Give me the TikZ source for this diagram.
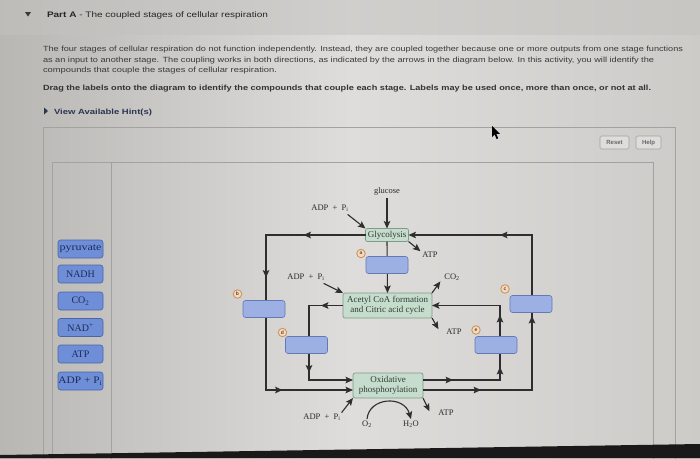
\documentclass[tikz,border=0pt]{standalone}
\usepackage{fontspec}
\setmainfont{Liberation Serif}
\newfontfamily\ui{Liberation Sans}
\usetikzlibrary{arrows.meta,decorations.markings,calc}
\definecolor{bgL}{HTML}{B9B7B4}
\definecolor{bgM}{HTML}{DEDDDB}
\definecolor{bgR}{HTML}{CDCBC8}
\definecolor{hdrC}{HTML}{C4C2BF}
\definecolor{panelC}{HTML}{A3A2A0}
\definecolor{linec}{HTML}{2E2E2E}
\definecolor{stgF}{HTML}{C6DCCD}
\definecolor{stgB}{HTML}{7E9A8A}
\definecolor{stgT}{HTML}{2F3D35}
\definecolor{phF}{HTML}{9CB0E3}
\definecolor{phB}{HTML}{6378B6}
\definecolor{mkF}{HTML}{F1DCC3}
\definecolor{mkB}{HTML}{CF955C}
\definecolor{mkT}{HTML}{6B4324}
\definecolor{labF}{HTML}{6F8ED8}
\definecolor{labB}{HTML}{4B64A6}
\definecolor{labT}{HTML}{1F2B5A}
\definecolor{txtC}{HTML}{3A3A3A}
\definecolor{hintC}{HTML}{2C3550}
\definecolor{btnT}{HTML}{6A6866}
\definecolor{dtxt}{HTML}{2A2A2A}
\newcommand\wfit[2]{\resizebox{#1}{\height}{#2}}
\begin{document}
\begin{tikzpicture}[x=1pt,y=-1pt,
  every node/.style={inner sep=0pt,outer sep=0pt},
  uitext/.style={anchor=base west,text=txtC,font=\ui\fontsize{7.5}{8}\selectfont},
  stage/.style={draw=stgB,fill=stgF,line width=0.7pt,rounded corners=2pt,align=center,
    font=\fontsize{9}{10.5}\selectfont,text=stgT},
  ph/.style={draw=phB,fill=phF,line width=0.6pt,rounded corners=2.5pt,minimum width=42pt,minimum height=17pt},
  mk/.style={circle,draw=mkB,fill=mkF,line width=0.9pt,minimum size=8.5pt,
    font=\ui\bfseries\fontsize{5}{5}\selectfont,text=mkT},
  lab/.style={draw=labB,fill=labF,line width=0.6pt,rounded corners=2.5pt,minimum width=45pt,
    minimum height=18pt,font=\fontsize{10}{11}\selectfont,text=labT},
  dl/.style={font=\fontsize{8.5}{9}\selectfont,text=dtxt},
  btn/.style={draw=panelC,fill=bgM,line width=0.6pt,rounded corners=1.5pt,minimum height=13pt,
    font=\ui\bfseries\fontsize{6}{6}\selectfont,text=btnT},
  conn/.style={draw=linec,line width=1.1pt},
  tip/.style={-{Stealth[length=7.5pt,width=6.5pt,inset=1.5pt]}},
  ma/.style={postaction={decorate,decoration={markings,
    mark=at position #1 with {\fill[linec] (0pt,0pt) -- (-7.5pt,3.4pt) -- (-6pt,0pt) -- (-7.5pt,-3.4pt) -- cycle;}}}}
]
\useasboundingbox (0,0) rectangle (700,458);
% screen background
\shade[left color=bgL,right color=bgR,middle color=bgM] (0,0) rectangle (700,458);
\fill[hdrC,opacity=0.5] (0,0) rectangle (700,35);
% header
\fill[txtC] (25,12) -- (31,12) -- (28,16.5) -- cycle;
\node[uitext,text=black!85] (title) at (47,17.5)
  {\wfit{221pt}{\fontsize{8}{9}\selectfont\textbf{Part A} - The coupled stages of cellular respiration}};
\node[uitext] (p1) at (43,51.5) {\wfit{640pt}{The four stages of cellular respiration do not function independently. Instead, they are coupled together because one or more outputs from one stage functions}};
\node[uitext] (p2) at (43,62) {\wfit{611pt}{as an input to another stage. The coupling works in both directions, as indicated by the arrows in the diagram below. In this activity, you will identify the}};
\node[uitext] (p3) at (43,72.5) {\wfit{234pt}{compounds that couple the stages of cellular respiration.}};
\node[uitext,text=black!80] (p4) at (43,90.5) {\wfit{608pt}{\bfseries Drag the labels onto the diagram to identify the compounds that couple each stage. Labels may be used once, more than once, or not at all.}};
\fill[hintC] (44,107.5) -- (48,111) -- (44,114.5) -- cycle;
\node[uitext,text=hintC] (hint) at (54,114) {\wfit{98pt}{\bfseries View Available Hint(s)}};
% panel
\draw[panelC,line width=0.7pt] (43,470) -- (43,127) -- (675,127) -- (675,470);
\draw[panelC,line width=0.7pt] (52,470) -- (52,162.5) -- (653,162.5) -- (653,470);
\draw[panelC,line width=0.7pt] (111,162.5) -- (111,470);
\node[btn,minimum width=29pt] (reset) at (614.5,142.5) {Reset};
\node[btn,minimum width=25pt] (help) at (648.5,142.5) {Help};
% cursor
\fill[black] (492,126) -- (492,137) -- (494.6,134.4) -- (496.6,139) -- (498.2,138.3) -- (496.3,133.8) -- (499.8,133.8) -- cycle;
% palette
\node[lab] (l1) at (80.5,249) {\wfit{42pt}{pyruvate}};
\node[lab] (l2) at (80.5,274) {NADH};
\node[lab] (l3) at (80.5,301) {CO\textsubscript{2}};
\node[lab] (l4) at (80.5,327.5) {NAD\textsuperscript{+}};
\node[lab] (l5) at (80.5,354) {ATP};
\node[lab] (l6) at (80.5,381) {\wfit{44pt}{ADP + P\textsubscript{i}}};
% stages
\node[stage,minimum width=43pt,minimum height=13pt] (glyc) at (387,235) {Glycolysis};
\node[stage,minimum width=89pt,minimum height=25pt] (acetyl) at (387.5,305.5) {Acetyl CoA formation\\and Citric acid cycle};
\node[stage,minimum width=70pt,minimum height=25pt] (oxid) at (388,385.5) {Oxidative\\phosphorylation};
% free labels
\node[dl] (glucose) at (387,191) {glucose};
\node[dl] (adpA) at (330,208) {ADP\enspace+\enspace P\textsubscript{i}};
\node[dl] (atpA) at (430,255) {ATP};
\node[dl] (adpB) at (306,277) {ADP\enspace+\enspace P\textsubscript{i}};
\node[dl] (co2) at (452,277) {CO\textsubscript{2}};
\node[dl] (atpB) at (454,332) {ATP};
\node[dl] (adpC) at (322,417) {ADP\enspace+\enspace P\textsubscript{i}};
\node[dl] (otwo) at (367,424.5) {O\textsubscript{2}};
\node[dl] (htwo) at (411,424.5) {H\textsubscript{2}O};
\node[dl] (atpC) at (446,413) {ATP};
% corner coordinates
\coordinate (c1) at (266,235);
\coordinate (c2) at (266,390);
\coordinate (c3) at (532,390);
\coordinate (c4) at (532,235);
\coordinate (c5) at (309,305.5);
\coordinate (c6) at (309,380);
\coordinate (c7) at (500,380);
\coordinate (c8) at (500,305.5);
% main loops
\draw[conn,tip,ma=62pt,ma=142pt,ma=271pt] (glyc.west) -- (c1) -- (c2) -- ([yshift=-4.5pt]oxid.west);
\draw[conn,tip,ma=58pt,ma=183pt,ma=296pt] ([yshift=-4.5pt]oxid.east) -- (c3) -- (c4) -- (glyc.east);
\draw[conn,tip,ma=22pt,ma=101pt] (acetyl.west) -- (c5) -- (c6) -- ([yshift=5.5pt]oxid.west);
\draw[conn,tip,ma=30pt,ma=90pt,ma=142pt] ([yshift=5.5pt]oxid.east) -- (c7) -- (c8) -- (acetyl.east);
\draw[conn,tip] (glyc.south) -- (acetyl.north);
\draw[conn,tip] (glucose.south) ++(0,3) -- (glyc.north);
% small arrows
\draw[conn,tip] ($(adpA.south east)+(-1,3)$) -- (glyc.north west);
\draw[conn,tip] (glyc.south east) -- ($(atpA.north west)+(-2,-1)$);
\draw[conn,tip] ($(adpB.south east)+(-1,3)$) -- (acetyl.north west);
\draw[conn,tip] (acetyl.north east) -- ($(co2.south west)+(-4,1)$);
\draw[conn,tip] (acetyl.south east) -- ($(atpB.north west)+(-8,0)$);
\draw[conn,tip] ($(adpC.north east)+(1,-1)$) -- (oxid.south west);
\draw[conn,tip] (oxid.south east) -- ($(atpC.north west)+(-9,1)$);
\draw[conn,tip] ($(otwo.north)+(0,-2)$) .. controls (369,397) and (404,395) .. ($(htwo.north)+(0,-2)$);
% placeholders
\node[ph] (pa) at (387,265) {};
\node[ph] (pb) at (264,309) {};
\node[ph] (pc) at (531,304) {};
\node[ph] (pd) at (306.5,345) {};
\node[ph] (pe) at (496,345) {};
\node[mk] (ma) at (361,253.5) {a};
\node[mk] (mb) at (237.5,294) {b};
\node[mk] (mc) at (505,289) {c};
\node[mk] (md) at (282.5,332.5) {d};
\node[mk] (me) at (476,330) {e};
% bezel
\fill[black!90] (0,455) -- (700,444) -- (700,458) -- (0,458) -- cycle;
\end{tikzpicture}
\end{document}
